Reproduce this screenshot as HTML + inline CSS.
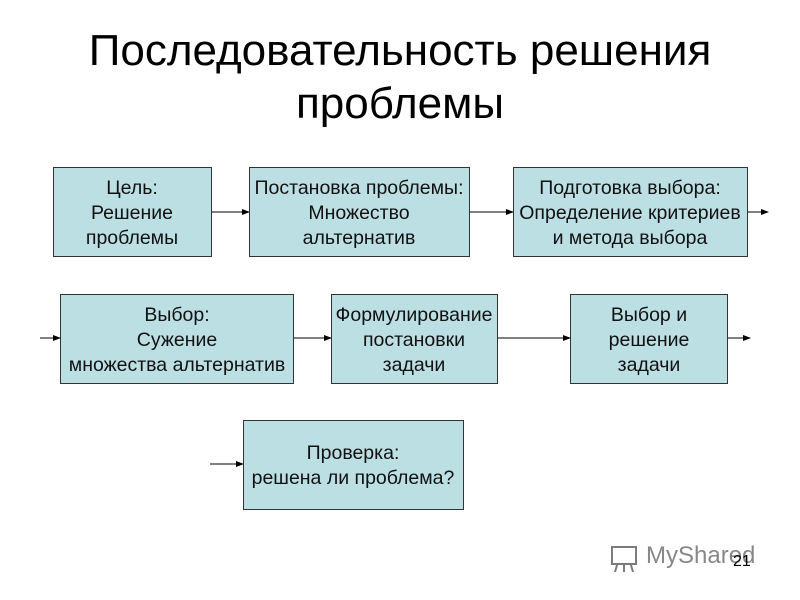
<!DOCTYPE html>
<html><head><meta charset="utf-8"><style>
body{margin:0;background:#fff;}
svg{display:block;font-family:"Liberation Sans",sans-serif;}
</style></head><body>
<svg width="800" height="600" viewBox="0 0 800 600">
<defs><marker id="a" markerWidth="8" markerHeight="8" refX="7" refY="4" orient="auto" markerUnits="userSpaceOnUse"><path d="M0,1 L8,4 L0,7 z" fill="#000"/></marker></defs>
<text x="400" y="65" font-size="44" text-anchor="middle" fill="#000">Последовательность решения</text>
<text x="400" y="118" font-size="44" text-anchor="middle" fill="#000">проблемы</text>
<g fill="#bcdfe4" stroke="#333" stroke-width="1">
<rect x="53.5" y="167.5" width="158" height="89"/>
<rect x="249.5" y="167.5" width="220" height="89"/>
<rect x="513.5" y="167.5" width="234" height="89"/>
<rect x="60.5" y="294.5" width="233" height="89"/>
<rect x="331.5" y="294.5" width="166" height="89"/>
<rect x="570.5" y="294.5" width="157" height="89"/>
<rect x="243.5" y="420.5" width="220" height="89"/>
</g>
<g stroke="#000" stroke-width="1" marker-end="url(#a)">
<line x1="212" y1="212" x2="249" y2="212"/>
<line x1="470" y1="212" x2="513" y2="212"/>
<line x1="748" y1="212" x2="768" y2="212"/>
<line x1="40" y1="338" x2="60" y2="338"/>
<line x1="294" y1="338" x2="331" y2="338"/>
<line x1="498" y1="338" x2="570" y2="338"/>
<line x1="728" y1="338" x2="750" y2="338"/>
<line x1="210" y1="464" x2="243" y2="464"/>
</g>
<g font-size="19.5" text-anchor="middle" fill="#111">
<text x="132" y="194">Цель:</text><text x="132" y="219">Решение</text><text x="132" y="244">проблемы</text>
<text x="359" y="194">Постановка проблемы:</text><text x="359" y="219">Множество</text><text x="359" y="244">альтернатив</text>
<text x="630" y="194">Подготовка выбора:</text><text x="630" y="219">Определение критериев</text><text x="630" y="244">и метода выбора</text>
<text x="177" y="321">Выбор:</text><text x="177" y="346">Сужение</text><text x="177" y="371">множества альтернатив</text>
<text x="414" y="321">Формулирование</text><text x="414" y="346">постановки</text><text x="414" y="371">задачи</text>
<text x="649" y="321">Выбор и</text><text x="649" y="346">решение</text><text x="649" y="371">задачи</text>
<text x="353" y="459">Проверка:</text><text x="353" y="484">решена ли проблема?</text>
</g>
<g opacity="0.7">
<rect x="612" y="547" width="24" height="17" fill="none" stroke="#444" stroke-width="2"/>
<line x1="617" y1="565" x2="615" y2="572" stroke="#444" stroke-width="2"/>
<line x1="624" y1="565" x2="624" y2="572" stroke="#444" stroke-width="2"/>
<line x1="631" y1="565" x2="633" y2="572" stroke="#444" stroke-width="2"/>
<text x="646" y="563" font-size="24" fill="#555">MyShared</text>
</g>
<text x="733" y="566" font-size="16" fill="#000">21</text>
</svg>
</body></html>
